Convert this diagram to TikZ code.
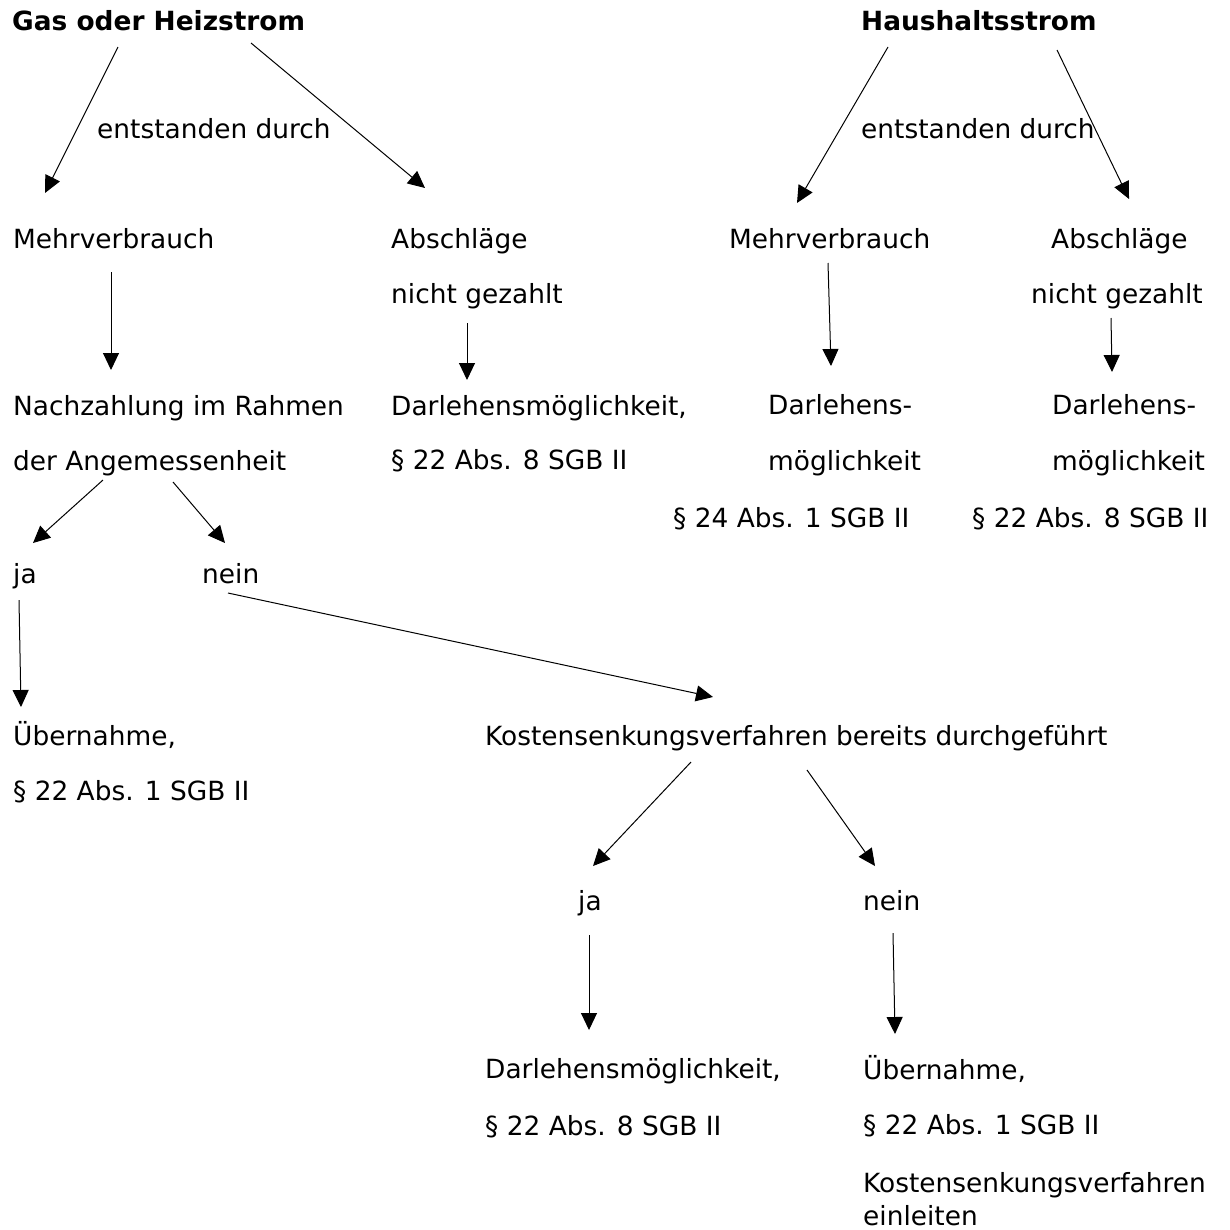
\documentclass[tikz,border=0pt]{standalone}
\usepackage{fontspec}
\setmainfont{DejaVu Sans}
\usetikzlibrary{arrows.meta,calc}
\begin{document}
\begin{tikzpicture}[x=1pt,y=-1pt,
  txt/.style={anchor=base west,inner sep=0pt,font=\fontsize{26.4}{30}\selectfont},
  ttl/.style={txt,font=\fontsize{26.4}{30}\selectfont\bfseries},
  arr/.style={line width=1pt,-{Triangle[length=17pt,width=16pt]}}]
\useasboundingbox (0,0) rectangle (1230,1229);
% titles
\node[ttl] (gas) at (12,30) {Gas oder Heizstrom};
\node[ttl] (haus) at (861,30) {Haushaltsstrom};
\node[txt] (ent1) at (97,138) {entstanden durch};
\node[txt] (ent2) at (861,138) {entstanden durch};
% row 2
\node[txt] (mv1) at (13,248) {Mehrverbrauch};
\node[txt] (ab1) at (391,248) {Abschläge};
\node[txt] (ab1b) at (391,303) {nicht gezahlt};
\node[txt] (mv2) at (729,248) {Mehrverbrauch};
\node[txt] (ab2) at (1051,248) {Abschläge};
\node[txt] (ab2b) at (1031,303) {nicht gezahlt};
% row 3
\node[txt] (nach) at (13,415) {Nachzahlung im Rahmen};
\node[txt] (nach2) at (13,470) {der Angemessenheit};
\node[txt] (dm1) at (391,415) {Darlehensmöglichkeit,};
\node[txt] (dm1b) at (391,469) {§ 22 Abs. 8 SGB II};
\node[txt] (dm2) at (768,414) {Darlehens-};
\node[txt] (dm2b) at (768,470) {möglichkeit};
\node[txt] (dm2c) at (673,527) {§ 24 Abs. 1 SGB II};
\node[txt] (dm3) at (1052,414) {Darlehens-};
\node[txt] (dm3b) at (1052,470) {möglichkeit};
\node[txt] (dm3c) at (972,527) {§ 22 Abs. 8 SGB II};
% ja / nein
\node[txt] (ja1) at (13,583) {ja};
\node[txt] (nein1) at (202,583) {nein};
\node[txt] (ueb1) at (13,745) {Übernahme,};
\node[txt] (ueb1b) at (13,800) {§ 22 Abs. 1 SGB II};
\node[txt] (kost) at (485,745) {Kostensenkungsverfahren bereits durchgeführt};
\node[txt] (ja2) at (578,910) {ja};
\node[txt] (nein2) at (863,910) {nein};
\node[txt] (dm4) at (485,1078) {Darlehensmöglichkeit,};
\node[txt] (dm4b) at (485,1135) {§ 22 Abs. 8 SGB II};
\node[txt] (ueb2) at (863,1079) {Übernahme,};
\node[txt] (ueb2b) at (863,1134) {§ 22 Abs. 1 SGB II};
\node[txt] (ueb2c) at (863,1192) {Kostensenkungsverfahren};
\node[txt] (ueb2d) at (863,1225) {einleiten};
% connectors
\draw[arr] ($(gas.base west)+(106,17)$) -- ($(mv1.base west)+(32,-55)$);
\draw[arr] ($(gas.base west)+(239,13)$) -- ($(ab1.base west)+(34,-60)$);
\draw[arr] ($(haus.base west)+(27,17)$) -- ($(mv2.base west)+(68,-45)$);
\draw[arr] ($(haus.base west)+(196,20)$) -- ($(ab2.base west)+(78,-49)$);
\draw[arr] ($(mv1.base west)+(98,24)$) -- ($(nach.base west)+(98,-45)$);
\draw[arr] ($(ab1b.base west)+(76,20)$) -- ($(dm1.base west)+(76,-35)$);
\draw[arr] ($(mv2.base west)+(99,15)$) -- ($(dm2.base west)+(63,-48)$);
\draw[arr] ($(ab2b.base west)+(80,15)$) -- ($(dm3.base west)+(60,-42)$);
\draw[arr] ($(nach2.base west)+(90,10)$) -- ($(ja1.base west)+(20,-40)$);
\draw[arr] ($(nach2.base west)+(160,12)$) -- ($(nein1.base west)+(23,-40)$);
\draw[arr] ($(ja1.base west)+(6,17)$) -- ($(ueb1.base west)+(8,-38)$);
\draw[arr] ($(nein1.base west)+(26,10)$) -- ($(kost.base west)+(228,-48)$);
\draw[arr] ($(kost.base west)+(206,17)$) -- ($(ja2.base west)+(15,-44)$);
\draw[arr] ($(kost.base west)+(322,25)$) -- ($(nein2.base west)+(12,-44)$);
\draw[arr] ($(ja2.base west)+(11,25)$) -- ($(dm4.base west)+(104,-48)$);
\draw[arr] ($(nein2.base west)+(30,23)$) -- ($(ueb2.base west)+(32,-45)$);
\end{tikzpicture}
\end{document}
